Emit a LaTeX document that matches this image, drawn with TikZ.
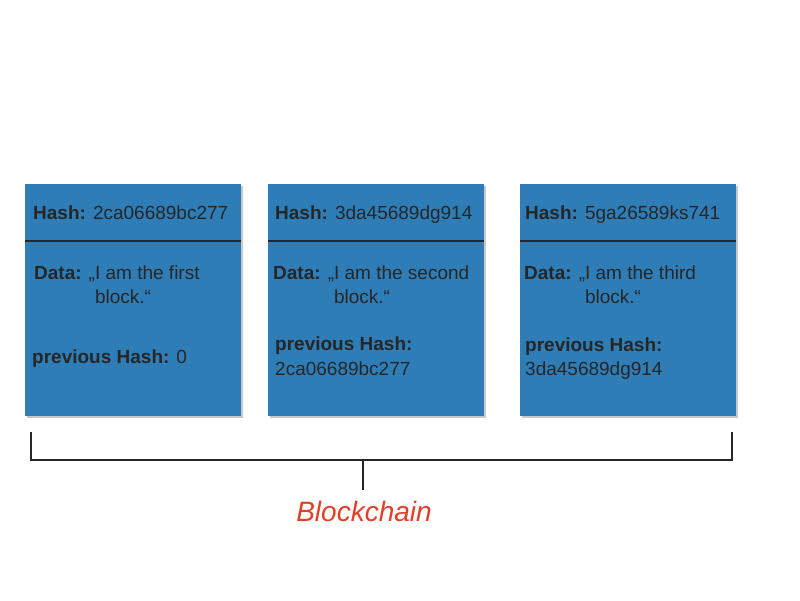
\documentclass[tikz,border=0pt]{standalone}
\usepackage{fontspec}
\setmainfont{Liberation Sans}
\definecolor{blockblue}{RGB}{46,125,183}
\definecolor{chainred}{RGB}{226,62,40}
\definecolor{shadowgray}{RGB}{200,200,200}
\begin{document}
\begin{tikzpicture}[x=1pt,y=-1pt,
  blockbox/.style={draw=none,fill=blockblue,minimum width=216pt,minimum height=232pt,anchor=north west,inner sep=0pt},
  shadowbox/.style={fill=shadowgray,minimum width=216pt,minimum height=232pt,anchor=north west,inner sep=0pt},
  txt/.style={anchor=base west,inner sep=0pt,font=\fontsize{19}{22}\selectfont,text=black!85},
  sepline/.style={draw=black!85,line width=1.3pt},
  bracket/.style={draw=black!85,line width=1.3pt}
]
\useasboundingbox (0,0) rectangle (800,600);
% shadows
\node[shadowbox] at (26.5,185.5) {};
\node[shadowbox] at (269.5,185.5) {};
\node[shadowbox] at (521.5,185.5) {};
% blocks
\node[blockbox] (b1) at (25,184) {};
\node[blockbox] (b2) at (268,184) {};
\node[blockbox] (b3) at (520,184) {};
% separators
\foreach \b in {b1,b2,b3}{
  \draw[sepline] ([yshift=-57pt]\b.north west) -- ([yshift=-57pt]\b.north east);
}
% block 1
\node[txt] (h1) at (33,219) {\textbf{Hash:} 2ca06689bc277};
\node[txt] (d1) at (34,279) {\textbf{Data:} „I am the first};
\node[txt] (d1b) at (34,303) {\phantom{\textbf{Data:} „}block.“};
\node[txt] (p1) at (32,363) {\textbf{previous Hash:} 0};
% block 2
\node[txt] (h2) at (275,219) {\textbf{Hash:} 3da45689dg914};
\node[txt] (d2) at (273,279) {\textbf{Data:} „I am the second};
\node[txt] (d2b) at (273,303) {\phantom{\textbf{Data:} „}block.“};
\node[txt] (p2) at (275,350) {\textbf{previous Hash:}};
\node[txt] (p2b) at (275,375) {2ca06689bc277};
% block 3
\node[txt] (h3) at (525,219) {\textbf{Hash:} 5ga26589ks741};
\node[txt] (d3) at (524,279) {\textbf{Data:} „I am the third};
\node[txt] (d3b) at (524,303) {\phantom{\textbf{Data:} „}block.“};
\node[txt] (p3) at (525,351) {\textbf{previous Hash:}};
\node[txt] (p3b) at (525,375) {3da45689dg914};
% bracket
\coordinate (bl) at (31,432);
\coordinate (br) at (732,432);
\coordinate (bm) at (363,460);
\node[anchor=base,inner sep=0pt,font=\fontsize{28}{32}\selectfont\itshape,text=chainred] (chain) at (364,521) {Blockchain};
\draw[bracket] (bl) -- (31,460) -- (732,460) -- (br);
\draw[bracket] (bm) -- (363,490);
\end{tikzpicture}
\end{document}
